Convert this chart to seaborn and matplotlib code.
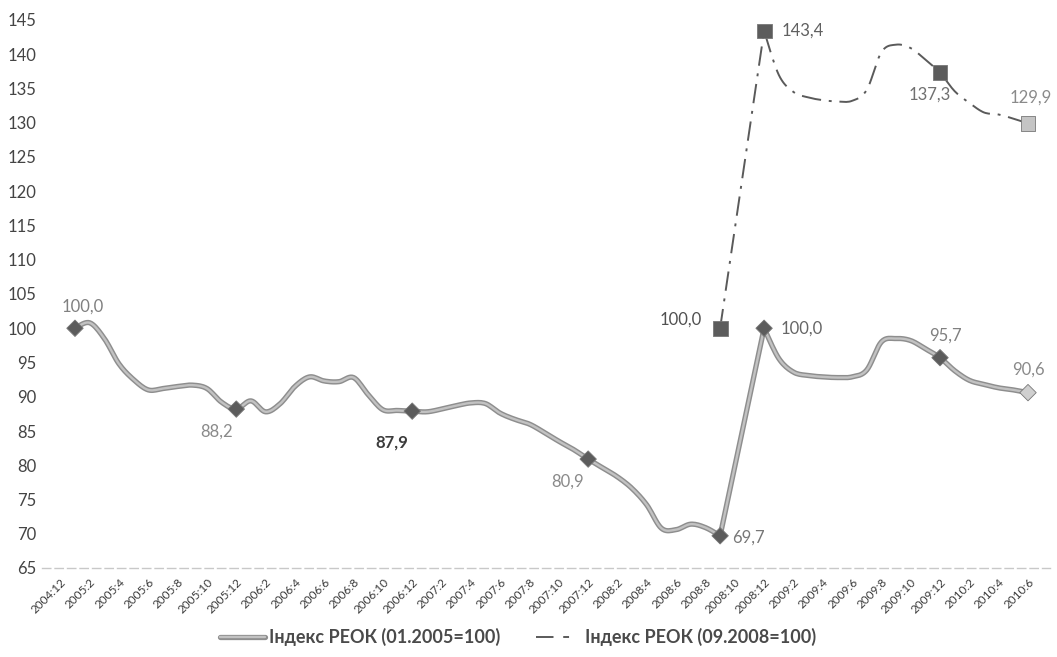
import numpy as np
import pandas as pd
import matplotlib
matplotlib.use("Agg")
import matplotlib.pyplot as plt
import matplotlib.patheffects as pe
import matplotlib.transforms as mtransforms
from matplotlib.lines import Line2D
import seaborn as sns

sns.set_theme(style="white")
plt.rcParams['font.family'] = ['Lato', 'DejaVu Sans']

# months on the category axis, 2004:12 .. 2010:6
months = ["2004:12"] + [f"{y}:{m}" for y in range(2005, 2011) for m in range(1, 13)]
months = months[:months.index("2010:6") + 1]

# REER index, 01.2005 = 100 (first value 2005:1); 2008:10-11 not drawn as points
reer_2005 = [np.nan,
             100.0, 100.8, 98.5, 94.8, 92.5, 91.0, 91.2, 91.5, 91.7, 91.2, 89.2, 88.2,
             89.4, 87.8, 89.0, 91.5, 92.9, 92.3, 92.2, 92.8, 90.3, 88.1, 88.0, 87.9,
             87.8, 88.2, 88.7, 89.1, 89.0, 87.6, 86.7, 86.0, 84.8, 83.5, 82.3, 80.9,
             79.6, 78.3, 76.6, 74.2, 70.8, 70.6, 71.4, 70.9, 69.7, np.nan, np.nan, 100.0,
             95.6, 93.6, 93.1, 92.9, 92.8, 92.9, 93.9, 98.0, 98.5, 98.2, 97.0, 95.7,
             93.8, 92.4, 91.8, 91.3, 91.0, 90.6]

# REER index, 09.2008 = 100
reer_2008 = [np.nan] * 45 + [100.0, np.nan, np.nan, 143.4,
             137.0, 134.5, 133.7, 133.3, 133.1, 133.2, 134.8, 140.3, 141.4, 140.9, 139.2, 137.3,
             134.6, 132.9, 131.5, 131.2, 130.6, 129.9]

marked_2005 = ["2005:1", "2005:12", "2006:12", "2007:12", "2008:9", "2008:12", "2009:12", "2010:6"]
marked_2008 = ["2008:9", "2008:12", "2009:12", "2010:6"]

legend_labels = ["Індекс РЕОК (01.2005=100)", "Індекс РЕОК (09.2008=100)"]

df = pd.DataFrame({"month": months, "reer_2005": reer_2005, "reer_2008": reer_2008})
df["x"] = np.arange(len(df))


def catmull(xs, ys, k=10):
    pts = np.column_stack([xs, ys])
    if len(pts) < 3:
        return pts
    p = np.vstack([pts[0], pts, pts[-1]])
    t = np.linspace(0, 1, k, endpoint=False)[:, None]
    out = []
    for i in range(1, len(p) - 2):
        p0, p1, p2, p3 = p[i - 1], p[i], p[i + 1], p[i + 2]
        out.append(0.5 * (2 * p1 + (-p0 + p2) * t
                          + (2 * p0 - 5 * p1 + 4 * p2 - p3) * t ** 2
                          + (-p0 + 3 * p1 - 3 * p2 + p3) * t ** 3))
    out.append(pts[-1:])
    return np.vstack(out)


def smooth_series(col):
    # smooth each run of consecutive values, runs joined by straight lines
    s = df[col]
    valid = s.notna()
    runs = (valid != valid.shift()).cumsum()
    parts = []
    for _, g in df[valid].groupby(runs[valid]):
        parts.append(catmull(g["x"].values, g[col].values))
    return np.vstack(parts)


fig = plt.figure(figsize=(10.57, 6.57), dpi=100)
ax = fig.add_axes([42 / 1057, 1 - 568 / 657, (1050 - 42) / 1057, (568 - 20) / 657])

line1_fx = [pe.Stroke(linewidth=3.8, foreground="#8e8e8e"), pe.Normal()]

c1 = smooth_series("reer_2005")
sns.lineplot(x=c1[:, 0], y=c1[:, 1], sort=False, estimator=None, ax=ax,
             color="#c2c2c2", linewidth=1.7, path_effects=line1_fx)

c2 = smooth_series("reer_2008")
sns.lineplot(x=c2[:, 0], y=c2[:, 1], sort=False, estimator=None, ax=ax,
             color="#5a5a5a", linewidth=1.4)
ax.lines[-1].set_dashes([10, 4, 1.5, 4])

m1 = df[df["month"].isin(marked_2005)]
m2 = df[df["month"].isin(marked_2008)]
cols1 = ["#5c5c5c"] * (len(m1) - 1) + ["#cfcfcf"]
cols2 = ["#5c5c5c"] * (len(m2) - 1) + ["#c4c4c4"]
ax.scatter(m1["x"], m1["reer_2005"], marker="D", s=70, c=cols1, edgecolors="#777777",
           linewidths=0.6, zorder=5)
ax.scatter(m2["x"], m2["reer_2008"], marker="s", s=115, c=cols2, edgecolors="#777777",
           linewidths=0.6, zorder=5)

# data labels: (dx, dy, colour, weight) in pixels
lab1 = [(8, 22, "#808080", "normal"), (-20, -23, "#8a8a8a", "normal"),
        (-20, -31, "#3c3c3c", "bold"), (-21, -23, "#8a8a8a", "normal"),
        (28, -2, "#777777", "normal"), (38, 0, "#666666", "normal"),
        (5, 22, "#808080", "normal"), (0, 23, "#8a8a8a", "normal")]
for (dx, dy, col, w), (_, r) in zip(lab1, m1.iterrows()):
    ax.annotate(f"{r['reer_2005']:.1f}".replace(".", ","), (r["x"], r["reer_2005"]),
                xytext=(dx, dy), textcoords="offset pixels", ha="center", va="center",
                fontsize=12, color=col, fontweight=w)
lab2 = [(-39, 9, "#505050"), (39, 0, "#606060"), (-10, -22, "#707070"), (3, 26, "#8a8a8a")]
for (dx, dy, col), (_, r) in zip(lab2, m2.iterrows()):
    ax.annotate(f"{r['reer_2008']:.1f}".replace(".", ","), (r["x"], r["reer_2008"]),
                xytext=(dx, dy), textcoords="offset pixels", ha="center", va="center",
                fontsize=12, color=col)

ax.set_ylim(65, 145)
ax.set_yticks(range(65, 150, 5))
ax.set_xlim(-1.25, 67.5)
ax.set_xticks(df["x"][::2])
ax.set_xticklabels(df["month"][::2], rotation=45, ha="right", rotation_mode="anchor",
                   fontsize=8.5, color="#3a3a3a")
shift = mtransforms.ScaledTranslation(-8 / 100, 0, fig.dpi_scale_trans)
for t in ax.get_xticklabels():
    t.set_transform(t.get_transform() + shift)
ax.tick_params(axis="y", labelsize=12, labelcolor="#444444", pad=4, length=0)
ax.tick_params(axis="x", pad=6, length=0)
ax.set_xlabel("")
ax.set_ylabel("")
for s in ["top", "right", "left"]:
    ax.spines[s].set_visible(False)
ax.spines["bottom"].set_color("#c8c8c8")
ax.spines["bottom"].set_linestyle((0, (6, 3)))
ax.spines["bottom"].set_linewidth(1)
ax.set_facecolor("white")

handles = [Line2D([0], [0], color="#c2c2c2", linewidth=1.7, path_effects=line1_fx),
           Line2D([0], [0], color="#5a5a5a", linewidth=1.4, dashes=[9, 5, 3, 30])]
leg = fig.legend(handles, legend_labels, loc="center", bbox_to_anchor=(0.49, 0.030),
                 ncol=2, frameon=False, fontsize=13, handlelength=2.5, columnspacing=2.0,
                 handletextpad=0.2)
for t in leg.get_texts():
    t.set_color("#4a4a4a")
    t.set_fontweight("bold")

fig.savefig("out.png", dpi=100, facecolor="white")
